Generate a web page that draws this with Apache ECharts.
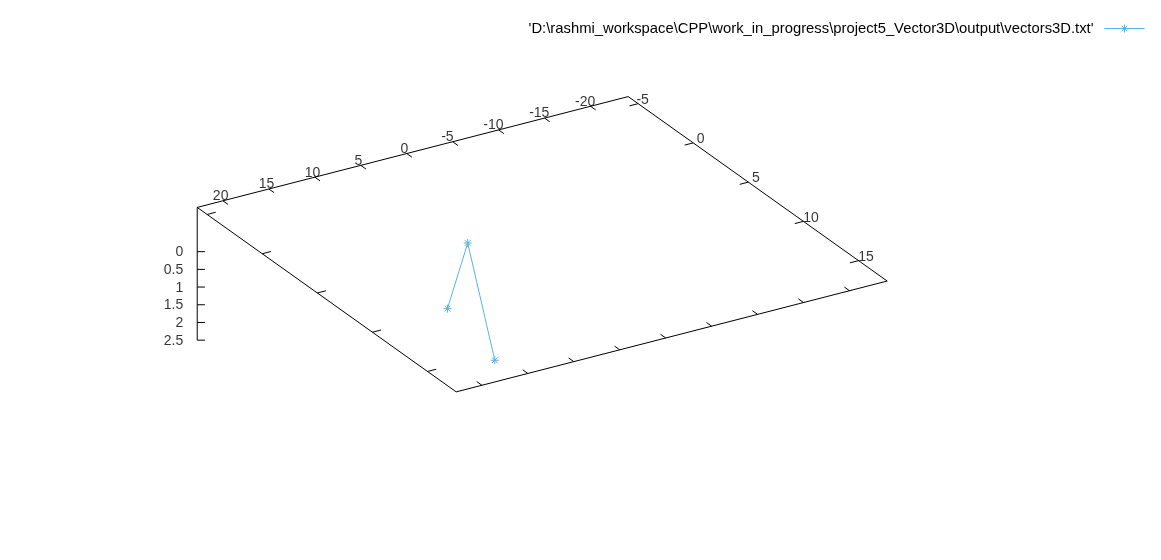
<!DOCTYPE html>
<html><head><meta charset="utf-8">
<script src="https://cdn.jsdelivr.net/npm/echarts@6/dist/echarts.min.js"></script>
<style>html,body{margin:0;padding:0;background:#fff}#c{width:1161px;height:560px}</style>
</head><body><div id="c"></div>
<script>
// ---------------- data ----------------
const SERIES_NAME = "'D:\\rashmi_workspace\\CPP\\work_in_progress\\project5_Vector3D\\output\\vectors3D.txt'";
const pointX = [7.2, 0.2, 3.25];
const pointY = [3.8, -0.2, 4.8];
const pointZ = [0.5, 0, 2];
const xRange = [-24.1, 22.8];
const yRange = [-5.9, 17.6];
const zRange = [0, 2.5];
const ticsLevel = 0.5;
const xTicks = [-20, -15, -10, -5, 0, 5, 10, 15, 20];
const yTicks = [-5, 0, 5, 10, 15];
const zTicks = [0, 0.5, 1, 1.5, 2, 2.5];

// ---------------- view / style ----------------
const VIEW = { rotX: 64.66, rotZ: 211, zScale: 0.2921 };
const SCREEN = { cx: 542.2, cy: 310.6, scale: 251.4, w: 1161, h: 560 };
const TICK_FRAC = 0.02;
const Z_TICK_PX = 7.7;
const LINE_COLOR = '#56b4e9';
const FONT = "'Liberation Sans', Arial, sans-serif";
const FS = 14;

const zFloor = zRange[0] - ticsLevel * (zRange[1] - zRange[0]);
function project(x, y, z) {
  const nx = 2 * (x - xRange[0]) / (xRange[1] - xRange[0]) - 1;
  const ny = 2 * (y - yRange[0]) / (yRange[1] - yRange[0]) - 1;
  const nz = 2 * (z - zFloor) / (zRange[1] - zFloor) - 1;
  const a = VIEW.rotZ * Math.PI / 180, b = VIEW.rotX * Math.PI / 180;
  const px = nx * Math.cos(a) - ny * Math.sin(a);
  const py = nx * Math.sin(a) + ny * Math.cos(a);
  return [px, py * Math.cos(b) - nz * VIEW.zScale * Math.sin(b)];
}

const [x0, x1] = xRange, [y0, y1] = yRange, zTop = zRange[1];
const xSpan = x1 - x0, ySpan = y1 - y0;

const borderLines = [
  { coords: [project(x1, y0, zFloor), project(x0, y0, zFloor), project(x0, y1, zFloor), project(x1, y1, zFloor), project(x1, y0, zFloor)] },
  { coords: [project(x1, y0, zFloor), project(x1, y0, zTop)] }
];
const tickLines = [];
xTicks.forEach(t => {
  tickLines.push({ coords: [project(t, y0, zFloor), project(t, y0 + TICK_FRAC * ySpan, zFloor)] });
  tickLines.push({ coords: [project(t, y1, zFloor), project(t, y1 - TICK_FRAC * ySpan, zFloor)] });
});
yTicks.forEach(t => {
  tickLines.push({ coords: [project(x0, t, zFloor), project(x0 + TICK_FRAC * xSpan, t, zFloor)] });
  tickLines.push({ coords: [project(x1, t, zFloor), project(x1 - TICK_FRAC * xSpan, t, zFloor)] });
});
zTicks.forEach(t => {
  const p = project(x1, y0, t);
  tickLines.push({ coords: [p, [p[0] + Z_TICK_PX / SCREEN.scale, p[1]]] });
});

const negShift = t => (t < 0 ? -3 : 0);
const xLabelData = xTicks.map(t => ({ name: String(t), value: project(t, y0, zFloor), label: { offset: [-2.3 + negShift(t), -4.5] } }));
const yLabelData = yTicks.map(t => ({ name: String(t), value: project(x0, t, zFloor), label: { offset: [7.5 + negShift(t), -3.7] } }));
const zLabelData = zTicks.map(t => ({ name: String(t), value: project(x1, y0, t) }));

const pts = pointX.map((x, i) => project(x, pointY[i], pointZ[i]));

const star = 'path://M0,-4L0,4M-4,0L4,0M-2.8,-2.8L2.8,2.8M-2.8,2.8L2.8,-2.8';
const txt = { color: '#000', fontSize: FS, fontFamily: FONT };

const chart = echarts.init(document.getElementById('c'), null, { renderer: 'canvas' });
chart.setOption({
  animation: false,
  backgroundColor: '#fff',
  grid: { left: 0, right: 0, top: 0, bottom: 0, containLabel: false },
  xAxis: { type: 'value', show: false, min: -SCREEN.cx / SCREEN.scale, max: (SCREEN.w - SCREEN.cx) / SCREEN.scale },
  yAxis: { type: 'value', show: false, min: -(SCREEN.h - SCREEN.cy) / SCREEN.scale, max: SCREEN.cy / SCREEN.scale },
  legend: {
    data: [SERIES_NAME], right: 11, top: 16, align: 'right', itemWidth: 40, itemHeight: 10,
    itemStyle: { color: LINE_COLOR, borderColor: LINE_COLOR, borderWidth: 1 },
    lineStyle: { color: LINE_COLOR, width: 1 },
    textStyle: { color: '#000', fontSize: 14.8, fontFamily: FONT, padding: [0, 6, 0, 0] }, selectedMode: false
  },
  series: [
    { type: 'lines', coordinateSystem: 'cartesian2d', polyline: true, silent: true, data: borderLines,
      lineStyle: { color: '#000', width: 1, opacity: 1 } },
    { type: 'lines', coordinateSystem: 'cartesian2d', polyline: true, silent: true, data: tickLines,
      lineStyle: { color: '#000', width: 1, opacity: 1 } },
    { type: 'scatter', silent: true, symbolSize: 0, data: xLabelData,
      label: Object.assign({ show: true, position: 'inside', formatter: p => p.name }, txt) },
    { type: 'scatter', silent: true, symbolSize: 0, data: yLabelData,
      label: Object.assign({ show: true, position: 'inside', formatter: p => p.name }, txt) },
    { type: 'scatter', silent: true, symbolSize: 0, data: zLabelData,
      label: Object.assign({ show: true, position: 'left', distance: 14, offset: [0, 0.8], formatter: p => p.name }, txt) },
    { type: 'line', name: SERIES_NAME, data: pts, symbol: star, symbolSize: 8, showSymbol: true,
      lineStyle: { color: LINE_COLOR, width: 1 },
      itemStyle: { color: LINE_COLOR, borderColor: LINE_COLOR, borderWidth: 1 },
      emphasis: { disabled: true } }
  ]
});
</script></body></html>
